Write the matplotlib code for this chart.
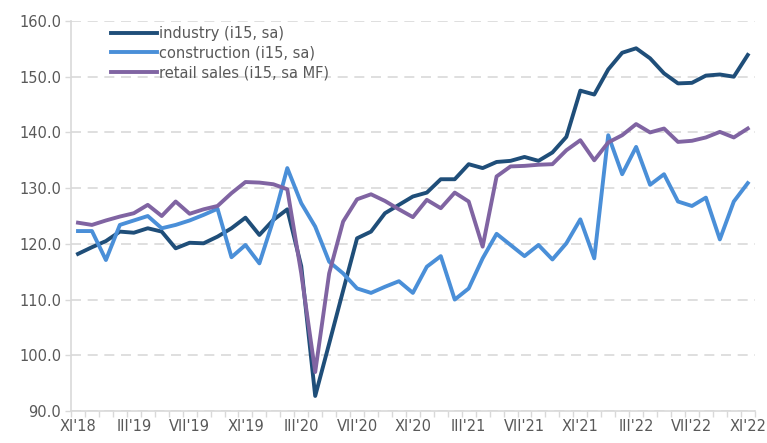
import matplotlib
matplotlib.use("Agg")
import matplotlib.pyplot as plt
from matplotlib.ticker import FixedLocator

# monthly data, XI'18 .. XI'22
tick_labels = ["XI'18", "III'19", "VII'19", "XI'19", "III'20", "VII'20", "XI'20",
               "III'21", "VII'21", "XI'21", "III'22", "VII'22", "XI'22"]

industry = [118.2, 119.4, 120.5, 122.2, 122.0, 122.8, 122.2, 119.2, 120.2, 120.1,
            121.3, 122.8, 124.7, 121.6, 124.3, 126.2, 116.0, 92.7, 102.1, 111.6,
            121.0, 122.2, 125.5, 127.0, 128.5, 129.2, 131.6, 131.6, 134.3, 133.6,
            134.7, 134.9, 135.6, 134.9, 136.4, 139.2, 147.5, 146.8, 151.3, 154.3,
            155.1, 153.3, 150.6, 148.8, 148.9, 150.2, 150.4, 150.0, 153.9]

construction = [122.3, 122.3, 117.1, 123.4, 124.2, 125.0, 122.8, 123.4, 124.2, 125.2,
                126.3, 117.6, 119.8, 116.5, 124.3, 133.6, 127.3, 123.1, 116.8, 114.7,
                112.0, 111.2, 112.3, 113.3, 111.2, 115.9, 117.8, 110.0, 112.0, 117.4,
                121.8, 119.8, 117.8, 119.8, 117.2, 120.1, 124.4, 117.4, 139.5, 132.5,
                137.4, 130.6, 132.5, 127.6, 126.8, 128.3, 120.8, 127.6, 130.9]

retail = [123.8, 123.4, 124.2, 124.9, 125.5, 127.0, 125.0, 127.6, 125.4, 126.2,
          126.8, 129.1, 131.1, 131.0, 130.7, 129.8, 114.7, 97.0, 114.7, 124.0,
          128.0, 128.9, 127.7, 126.2, 124.8, 127.9, 126.4, 129.2, 127.6, 119.5,
          132.1, 133.9, 134.0, 134.2, 134.3, 136.8, 138.6, 135.0, 138.2, 139.5,
          141.5, 140.0, 140.7, 138.3, 138.5, 139.1, 140.1, 139.1, 140.7]

x = list(range(len(industry)))

fig = plt.figure(figsize=(7.67, 4.43), dpi=100)
ax = fig.add_axes([0.0926, 0.0722, 0.8914, 0.8804])

ax.plot(x, industry, color='#1F4E79', lw=2.8, label='industry (i15, sa)', zorder=3)
ax.plot(x, construction, color='#4A8FD8', lw=2.8, label='construction (i15, sa)', zorder=3)
ax.plot(x, retail, color='#8064A2', lw=2.8, label='retail sales (i15, sa MF)', zorder=3)

ax.set_ylim(90, 160)
ax.set_yticks(range(90, 161, 10))
ax.set_yticklabels([f"{v:.1f}" for v in range(90, 161, 10)])
ax.set_xlim(-0.5, len(x) - 0.5)
ax.set_xticks(range(0, len(x), 4))
ax.set_xticklabels(tick_labels)
ax.xaxis.set_minor_locator(FixedLocator([i - 0.5 for i in range(len(x) + 1)]))

grey = '#595959'
ax.tick_params(axis='x', which='major', length=0, pad=6, labelsize=10.5, labelcolor=grey)
ax.tick_params(axis='x', which='minor', length=4, color='#d9d9d9', width=1)
ax.tick_params(axis='y', length=4, color='#d9d9d9', width=1, labelsize=10.5,
               labelcolor=grey, pad=3)

ax.grid(axis='y', color='#d9d9d9', lw=1.2, ls=(0, (6, 4)), zorder=0)
for s in ['top', 'right']:
    ax.spines[s].set_visible(False)
ax.spines['left'].set_color('#d9d9d9')
ax.spines['bottom'].set_color('#d9d9d9')
ax.spines['left'].set_linewidth(1.2)
ax.spines['bottom'].set_linewidth(1.2)

leg = ax.legend(loc='upper left', bbox_to_anchor=(0.045, 1.01), frameon=False,
                fontsize=10.5, handlelength=3.2, handletextpad=0.1,
                labelspacing=0.32, borderaxespad=0.2)
for t in leg.get_texts():
    t.set_color(grey)

plt.savefig('out.png', dpi=100)
